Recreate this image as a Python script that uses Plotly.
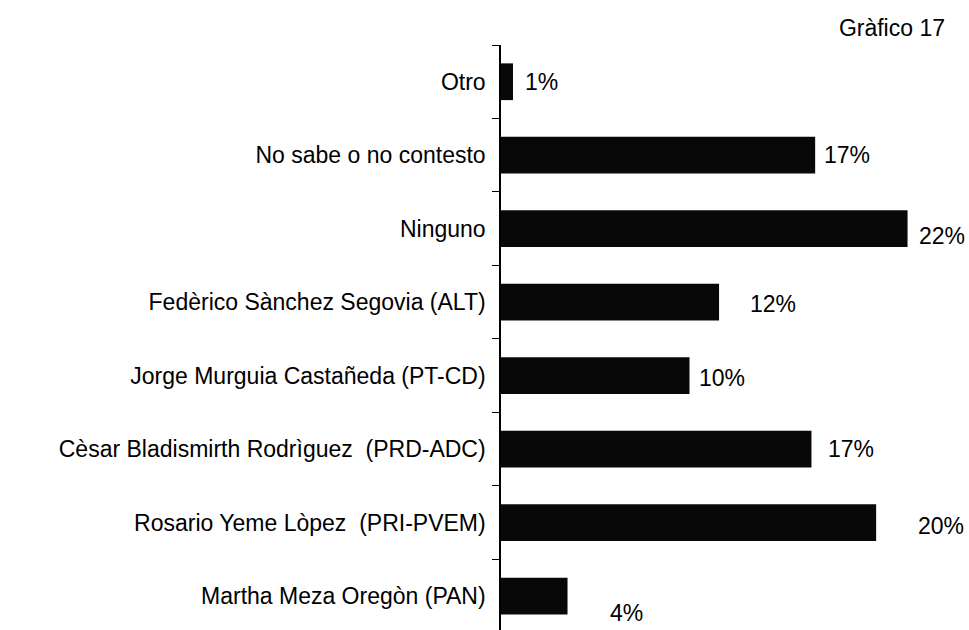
import plotly.graph_objects as go

# Categories listed bottom -> top
categories = [
    "Martha Meza Oregòn (PAN)",
    "Rosario Yeme Lòpez \u00a0(PRI-PVEM)",
    "Cèsar Bladismirth Rodrìguez \u00a0(PRD-ADC)",
    "Jorge Murguia Castañeda (PT-CD)",
    "Fedèrico Sànchez Segovia (ALT)",
    "Ninguno",
    "No sabe o no contesto",
    "Otro",
]
values = [3.6, 20.3, 16.8, 10.2, 11.8, 22.0, 17.0, 0.65]
value_labels = ["4%", "20%", "17%", "10%", "12%", "22%", "17%", "1%"]
label_xshift = [40, 40, 15, 7, 29, 9, 7, 10]
label_yshift = [-17, -3, 0, -2, -2, -7, 0, 0]

FONT = "Liberation Sans, Arial, sans-serif"

fig = go.Figure()
fig.add_trace(go.Bar(
    x=values,
    y=categories,
    orientation="h",
    width=0.5,
    marker=dict(color="#080808", line=dict(width=0)),
    hoverinfo="skip",
))

for c, v, t, xs, ys in zip(categories, values, value_labels, label_xshift, label_yshift):
    fig.add_annotation(
        x=v, y=c, text=t, showarrow=False,
        xanchor="left", yanchor="middle",
        xshift=xs, yshift=ys,
        font=dict(family=FONT, size=23, color="black"),
    )

fig.update_layout(
    width=969, height=630,
    margin=dict(l=501, r=6, t=45, b=0, pad=0),
    paper_bgcolor="white", plot_bgcolor="white",
    showlegend=False,
    title=dict(
        text="Gràfico 17",
        xref="container", yref="container",
        x=945 / 969, xanchor="right",
        y=1 - 28 / 630, yanchor="middle",
        automargin=False,
        font=dict(family=FONT, size=23, color="black"),
    ),
    xaxis=dict(
        range=[0, 25], visible=False, showgrid=False, zeroline=False,
        automargin=False,
    ),
    yaxis=dict(
        type="category",
        categoryorder="array", categoryarray=categories,
        range=[-0.46, 7.5],
        showline=True, linecolor="black", linewidth=1.5,
        ticks="outside", tickson="boundaries", ticklen=7,
        tickcolor="black", tickwidth=1,
        showgrid=False, zeroline=False,
        ticklabelstandoff=9,
        automargin=False,
        tickfont=dict(family=FONT, size=23, color="black"),
    ),
)

fig.write_html(
    "out.html",
    config={"displayModeBar": False},
    post_script="document.body.style.margin='0px';document.body.style.overflow='hidden';",
)
